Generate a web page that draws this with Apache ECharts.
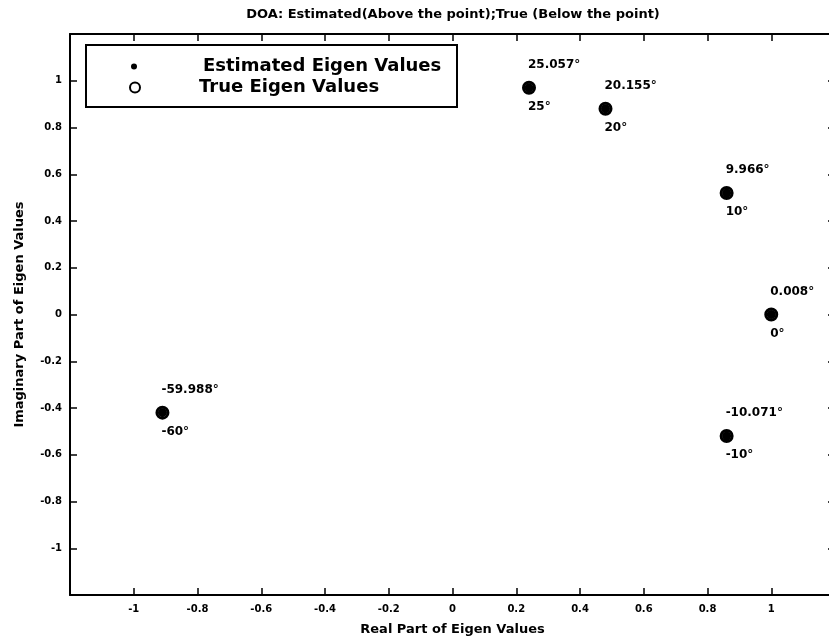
<!DOCTYPE html>
<html>
<head>
<meta charset="utf-8">
<script src="https://cdn.jsdelivr.net/npm/echarts@6/dist/echarts.min.js"></script>
<style>
html,body{margin:0;padding:0;background:#fff;}
#chart{width:829px;height:638px;}
</style>
</head>
<body>
<div id="chart"></div>
<script>
// ---- data ----
var titleText = 'DOA: Estimated(Above the point);True (Below the point)';
var xName = 'Real Part of Eigen Values';
var yName = 'Imaginary Part of Eigen Values';
var legendNames = ['Estimated Eigen Values', 'True Eigen Values'];

var trueRe = [0.24, 0.48, 0.86, 1.00, 0.86, -0.91];
var trueIm = [0.97, 0.88, 0.52, 0.00, -0.52, -0.42];
var trueLabels = ['25°', '20°', '10°', '0°', '-10°', '-60°'];

var estRe = [0.24, 0.48, 0.86, 1.00, 0.86, -0.91];
var estIm = [0.97, 0.88, 0.52, 0.00, -0.52, -0.42];
var estLabels = ['25.057°', '20.155°', '9.966°', '0.008°', '-10.071°', '-59.988°'];

var axisMin = -1.2, axisMax = 1.2, axisStep = 0.2;

// ---- build ----
var FONT = 'DejaVu Sans';
function pts(re, im, lab) {
  return re.map(function (r, i) { return { value: [r, im[i]], lab: lab[i] }; });
}

var chart = echarts.init(document.getElementById('chart'), null, { renderer: 'canvas' });

var baseAxis = {
  min: axisMin, max: axisMax, interval: axisStep,
  axisLine: { show: true, onZero: false, lineStyle: { color: '#000', width: 2 } },
  axisTick: { show: true, inside: true, length: 7, lineStyle: { color: '#000', width: 1.5 } },
  splitLine: { show: false }
};

function mk(extra) { return Object.assign({}, JSON.parse(JSON.stringify(baseAxis)), extra); }

var labelCommon = {
  fontFamily: FONT, fontSize: 12, fontWeight: 'bold', color: '#000',
  textBorderWidth: 0, textShadowBlur: 0
};

var option = {
  backgroundColor: '#fff',
  animation: false,
  title: {
    text: titleText,
    left: 453, top: 8, padding: 0, textAlign: 'center',
    textStyle: { fontFamily: FONT, fontSize: 13, fontWeight: 'bold', color: '#000' }
  },
  grid: { left: 70, right: -6, top: 34, bottom: 43, containLabel: false, outerBoundsMode: 'none' },
  xAxis: [
    mk({
      type: 'value', position: 'bottom',
      name: xName, nameLocation: 'middle', nameGap: 28,
      nameTextStyle: { fontFamily: FONT, fontSize: 13, fontWeight: 'bold', color: '#000' },
      axisLabel: { margin: 9, fontFamily: FONT, fontSize: 10, fontWeight: 'bold', color: '#000',
                   showMinLabel: false, showMaxLabel: false }
    }),
    mk({ type: 'value', position: 'top', axisLabel: { show: false } })
  ],
  yAxis: [
    mk({
      type: 'value', position: 'left',
      name: yName, nameLocation: 'middle', nameGap: 44,
      nameTextStyle: { fontFamily: FONT, fontSize: 13, fontWeight: 'bold', color: '#000' },
      axisLabel: { margin: 8, fontFamily: FONT, fontSize: 10, fontWeight: 'bold', color: '#000',
                   showMinLabel: false, showMaxLabel: false }
    }),
    mk({ type: 'value', position: 'right', axisLabel: { show: false } })
  ],
  legend: [
    {
      data: [{ name: legendNames[0], icon: 'circle', itemStyle: { color: '#000', borderWidth: 0 } }],
      left: 131, top: 56, padding: 0, orient: 'vertical',
      itemWidth: 6, itemHeight: 6, selectedMode: false,
      textStyle: { fontFamily: FONT, fontSize: 18, fontWeight: 'bold', color: '#000',
                   padding: [0, 0, 0, 61], lineHeight: 21 }
    },
    {
      data: [{ name: legendNames[1], icon: 'circle', itemStyle: { color: '#fff', borderColor: '#000', borderWidth: 2 } }],
      left: 129, top: 77, padding: 0, orient: 'vertical',
      itemWidth: 10, itemHeight: 10, selectedMode: false,
      textStyle: { fontFamily: FONT, fontSize: 18, fontWeight: 'bold', color: '#000',
                   padding: [0, 0, 0, 54], lineHeight: 21 }
    }
  ],
  graphic: [
    { type: 'rect', left: 85, top: 44, z: 10,
      shape: { width: 371, height: 62 },
      style: { fill: 'transparent', stroke: '#000', lineWidth: 2 } }
  ],
  series: [
    {
      name: legendNames[1], type: 'scatter', xAxisIndex: 0, yAxisIndex: 0,
      symbol: 'circle', symbolSize: 11, z: 2,
      itemStyle: { color: 'transparent', borderColor: '#000', borderWidth: 3, opacity: 1 },
      data: pts(trueRe, trueIm, trueLabels),
      label: Object.assign({
        show: true, position: 'inside', align: 'left', verticalAlign: 'middle',
        offset: [-1, 19],
        formatter: function (p) { return p.data.lab; }
      }, labelCommon),
      emphasis: { disabled: true }
    },
    {
      name: legendNames[0], type: 'scatter', xAxisIndex: 0, yAxisIndex: 0,
      symbol: 'circle', symbolSize: 9, z: 3,
      itemStyle: { color: '#000', opacity: 1 },
      data: pts(estRe, estIm, estLabels),
      label: Object.assign({
        show: true, position: 'inside', align: 'left', verticalAlign: 'middle',
        offset: [-1, -23],
        formatter: function (p) { return p.data.lab; }
      }, labelCommon),
      emphasis: { disabled: true }
    }
  ]
};
chart.setOption(option);
</script>
</body>
</html>
